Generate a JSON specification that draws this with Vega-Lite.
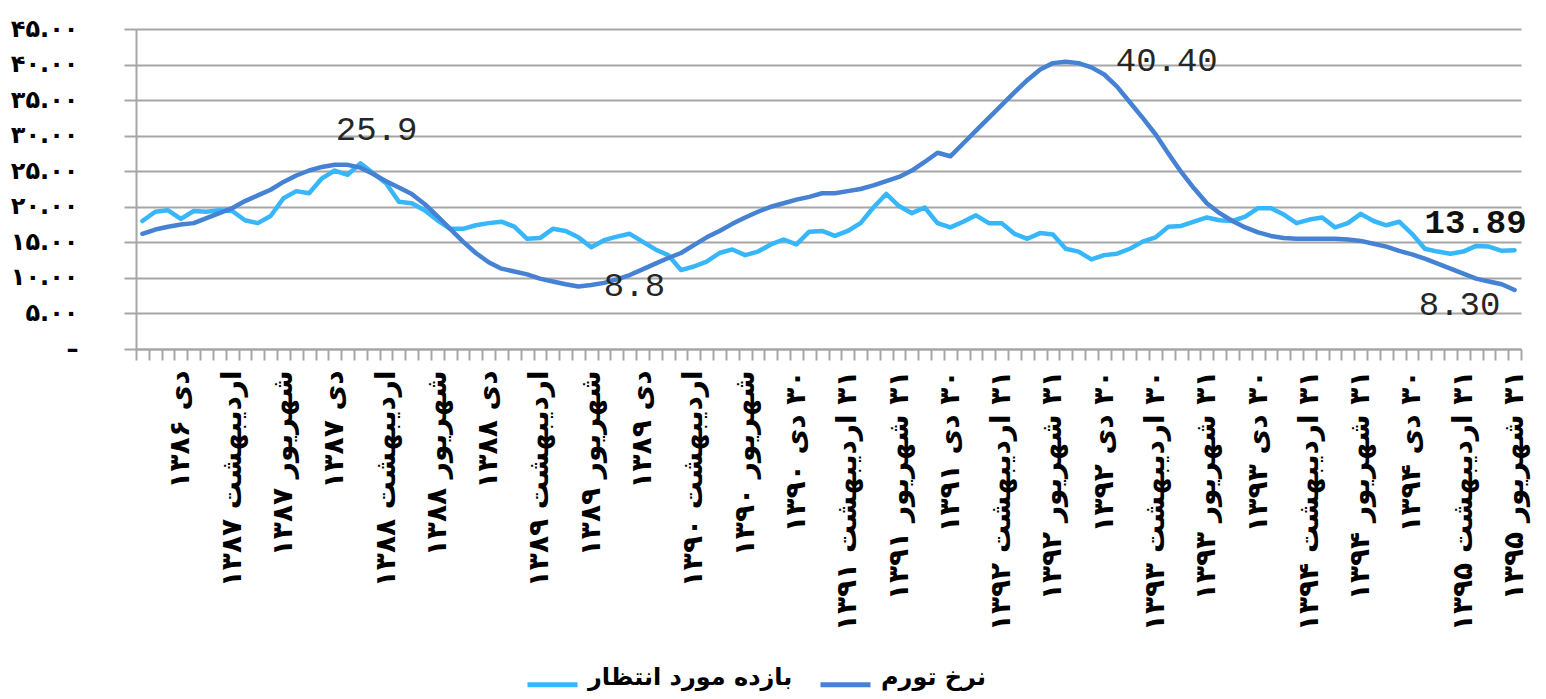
{
  "$schema": "https://vega.github.io/schema/vega-lite/v6.json",
  "width": 1385,
  "height": 320,
  "autosize": {"type": "none"},
  "padding": {"left": 136, "top": 29, "right": 25, "bottom": 350},
  "background": "white",
  "config": {"view": {"stroke": null}, "font": "DejaVu Sans"},
  "data": {"values": [
    {"month": "مهر ۱۳۸۶", "inflation": 16.2, "expected": 18.0},
    {"month": "آبان ۱۳۸۶", "inflation": 16.8, "expected": 19.3},
    {"month": "آذر ۱۳۸۶", "inflation": 17.2, "expected": 19.5},
    {"month": "دی ۱۳۸۶", "inflation": 17.5, "expected": 18.3},
    {"month": "بهمن ۱۳۸۶", "inflation": 17.7, "expected": 19.4},
    {"month": "اسفند ۱۳۸۶", "inflation": 18.4, "expected": 19.3},
    {"month": "فروردین ۱۳۸۷", "inflation": 19.1, "expected": 19.5},
    {"month": "اردیبهشت ۱۳۸۷", "inflation": 19.8, "expected": 19.4},
    {"month": "خرداد ۱۳۸۷", "inflation": 20.8, "expected": 18.1},
    {"month": "تیر ۱۳۸۷", "inflation": 21.6, "expected": 17.7},
    {"month": "مرداد ۱۳۸۷", "inflation": 22.4, "expected": 18.7},
    {"month": "شهریور ۱۳۸۷", "inflation": 23.5, "expected": 21.2},
    {"month": "مهر ۱۳۸۷", "inflation": 24.4, "expected": 22.2},
    {"month": "آبان ۱۳۸۷", "inflation": 25.1, "expected": 21.9},
    {"month": "آذر ۱۳۸۷", "inflation": 25.6, "expected": 24.0},
    {"month": "دی ۱۳۸۷", "inflation": 25.9, "expected": 25.1},
    {"month": "بهمن ۱۳۸۷", "inflation": 25.9, "expected": 24.5},
    {"month": "اسفند ۱۳۸۷", "inflation": 25.5, "expected": 26.1},
    {"month": "فروردین ۱۳۸۸", "inflation": 24.6, "expected": 24.7},
    {"month": "اردیبهشت ۱۳۸۸", "inflation": 23.6, "expected": 23.3},
    {"month": "خرداد ۱۳۸۸", "inflation": 22.7, "expected": 20.7},
    {"month": "تیر ۱۳۸۸", "inflation": 21.8, "expected": 20.5},
    {"month": "مرداد ۱۳۸۸", "inflation": 20.4, "expected": 19.5},
    {"month": "شهریور ۱۳۸۸", "inflation": 18.7, "expected": 18.1},
    {"month": "مهر ۱۳۸۸", "inflation": 16.9, "expected": 16.9},
    {"month": "آبان ۱۳۸۸", "inflation": 15.1, "expected": 16.9},
    {"month": "آذر ۱۳۸۸", "inflation": 13.5, "expected": 17.4},
    {"month": "دی ۱۳۸۸", "inflation": 12.2, "expected": 17.7},
    {"month": "بهمن ۱۳۸۸", "inflation": 11.3, "expected": 17.9},
    {"month": "اسفند ۱۳۸۸", "inflation": 10.9, "expected": 17.2},
    {"month": "فروردین ۱۳۸۹", "inflation": 10.5, "expected": 15.5},
    {"month": "اردیبهشت ۱۳۸۹", "inflation": 9.9, "expected": 15.6},
    {"month": "خرداد ۱۳۸۹", "inflation": 9.5, "expected": 16.9},
    {"month": "تیر ۱۳۸۹", "inflation": 9.1, "expected": 16.6},
    {"month": "مرداد ۱۳۸۹", "inflation": 8.8, "expected": 15.7},
    {"month": "شهریور ۱۳۸۹", "inflation": 9.0, "expected": 14.3},
    {"month": "مهر ۱۳۸۹", "inflation": 9.3, "expected": 15.3},
    {"month": "آبان ۱۳۸۹", "inflation": 9.8, "expected": 15.8},
    {"month": "آذر ۱۳۸۹", "inflation": 10.4, "expected": 16.2},
    {"month": "دی ۱۳۸۹", "inflation": 11.2, "expected": 15.1},
    {"month": "بهمن ۱۳۸۹", "inflation": 12.0, "expected": 14.0},
    {"month": "اسفند ۱۳۸۹", "inflation": 12.8, "expected": 13.2},
    {"month": "فروردین ۱۳۹۰", "inflation": 13.5, "expected": 11.1},
    {"month": "اردیبهشت ۱۳۹۰", "inflation": 14.6, "expected": 11.6},
    {"month": "خرداد ۱۳۹۰", "inflation": 15.7, "expected": 12.3},
    {"month": "تیر ۱۳۹۰", "inflation": 16.6, "expected": 13.5},
    {"month": "مرداد ۱۳۹۰", "inflation": 17.6, "expected": 14.0},
    {"month": "شهریور ۱۳۹۰", "inflation": 18.5, "expected": 13.2},
    {"month": "مهر ۱۳۹۰", "inflation": 19.3, "expected": 13.7},
    {"month": "آبان ۱۳۹۰", "inflation": 20.0, "expected": 14.7},
    {"month": "آذر ۱۳۹۰", "inflation": 20.5, "expected": 15.4},
    {"month": "۳۰ دی ۱۳۹۰", "inflation": 21.0, "expected": 14.7},
    {"month": "بهمن ۱۳۹۰", "inflation": 21.4, "expected": 16.5},
    {"month": "اسفند ۱۳۹۰", "inflation": 21.9, "expected": 16.6},
    {"month": "فروردین ۱۳۹۱", "inflation": 21.9, "expected": 15.9},
    {"month": "۳۱ اردیبهشت ۱۳۹۱", "inflation": 22.2, "expected": 16.6},
    {"month": "خرداد ۱۳۹۱", "inflation": 22.5, "expected": 17.7},
    {"month": "تیر ۱۳۹۱", "inflation": 23.0, "expected": 19.9},
    {"month": "مرداد ۱۳۹۱", "inflation": 23.6, "expected": 21.8},
    {"month": "۳۱ شهریور ۱۳۹۱", "inflation": 24.2, "expected": 20.1},
    {"month": "مهر ۱۳۹۱", "inflation": 25.1, "expected": 19.1},
    {"month": "آبان ۱۳۹۱", "inflation": 26.3, "expected": 19.9},
    {"month": "آذر ۱۳۹۱", "inflation": 27.6, "expected": 17.7},
    {"month": "۳۰ دی ۱۳۹۱", "inflation": 27.1, "expected": 17.1},
    {"month": "بهمن ۱۳۹۱", "inflation": 28.9, "expected": 17.9},
    {"month": "اسفند ۱۳۹۱", "inflation": 30.7, "expected": 18.8},
    {"month": "فروردین ۱۳۹۲", "inflation": 32.5, "expected": 17.7},
    {"month": "۳۱ اردیبهشت ۱۳۹۲", "inflation": 34.3, "expected": 17.7},
    {"month": "خرداد ۱۳۹۲", "inflation": 36.1, "expected": 16.2},
    {"month": "تیر ۱۳۹۲", "inflation": 37.8, "expected": 15.5},
    {"month": "مرداد ۱۳۹۲", "inflation": 39.3, "expected": 16.3},
    {"month": "۳۱ شهریور ۱۳۹۲", "inflation": 40.2, "expected": 16.1},
    {"month": "مهر ۱۳۹۲", "inflation": 40.4, "expected": 14.1},
    {"month": "آبان ۱۳۹۲", "inflation": 40.2, "expected": 13.7},
    {"month": "آذر ۱۳۹۲", "inflation": 39.6, "expected": 12.6},
    {"month": "۳۰ دی ۱۳۹۲", "inflation": 38.6, "expected": 13.2},
    {"month": "بهمن ۱۳۹۲", "inflation": 36.9, "expected": 13.4},
    {"month": "اسفند ۱۳۹۲", "inflation": 34.7, "expected": 14.1},
    {"month": "فروردین ۱۳۹۳", "inflation": 32.5, "expected": 15.1},
    {"month": "۳۰ اردیبهشت ۱۳۹۳", "inflation": 30.2, "expected": 15.7},
    {"month": "خرداد ۱۳۹۳", "inflation": 27.5, "expected": 17.2},
    {"month": "تیر ۱۳۹۳", "inflation": 24.9, "expected": 17.3},
    {"month": "مرداد ۱۳۹۳", "inflation": 22.6, "expected": 17.9},
    {"month": "۳۱ شهریور ۱۳۹۳", "inflation": 20.5, "expected": 18.5},
    {"month": "مهر ۱۳۹۳", "inflation": 19.1, "expected": 18.1},
    {"month": "آبان ۱۳۹۳", "inflation": 18.0, "expected": 18.0},
    {"month": "آذر ۱۳۹۳", "inflation": 17.1, "expected": 18.6},
    {"month": "۳۰ دی ۱۳۹۳", "inflation": 16.4, "expected": 19.8},
    {"month": "بهمن ۱۳۹۳", "inflation": 15.9, "expected": 19.8},
    {"month": "اسفند ۱۳۹۳", "inflation": 15.6, "expected": 18.9},
    {"month": "فروردین ۱۳۹۴", "inflation": 15.5, "expected": 17.7},
    {"month": "۳۱ اردیبهشت ۱۳۹۴", "inflation": 15.5, "expected": 18.2},
    {"month": "خرداد ۱۳۹۴", "inflation": 15.5, "expected": 18.5},
    {"month": "تیر ۱۳۹۴", "inflation": 15.5, "expected": 17.1},
    {"month": "مرداد ۱۳۹۴", "inflation": 15.4, "expected": 17.7},
    {"month": "۳۱ شهریور ۱۳۹۴", "inflation": 15.2, "expected": 19.0},
    {"month": "مهر ۱۳۹۴", "inflation": 14.8, "expected": 18.0},
    {"month": "آبان ۱۳۹۴", "inflation": 14.4, "expected": 17.4},
    {"month": "آذر ۱۳۹۴", "inflation": 13.8, "expected": 17.9},
    {"month": "۳۰ دی ۱۳۹۴", "inflation": 13.3, "expected": 16.2},
    {"month": "بهمن ۱۳۹۴", "inflation": 12.7, "expected": 14.1},
    {"month": "اسفند ۱۳۹۴", "inflation": 12.0, "expected": 13.7},
    {"month": "فروردین ۱۳۹۵", "inflation": 11.3, "expected": 13.4},
    {"month": "۳۱ اردیبهشت ۱۳۹۵", "inflation": 10.6, "expected": 13.7},
    {"month": "خرداد ۱۳۹۵", "inflation": 9.9, "expected": 14.5},
    {"month": "تیر ۱۳۹۵", "inflation": 9.5, "expected": 14.4},
    {"month": "مرداد ۱۳۹۵", "inflation": 9.1, "expected": 13.8},
    {"month": "۳۱ شهریور ۱۳۹۵", "inflation": 8.3, "expected": 13.89}
  ]},
  "transform": [{"fold": ["expected", "inflation"], "as": ["series", "value"]}],
  "encoding": {
    "x": {
      "field": "month", "type": "ordinal", "sort": null, "bandPosition": 0.5,
      "scale": {"type": "band", "paddingInner": 0, "paddingOuter": 0},
      "axis": {
        "title": null, "tickBand": "extent", "labelAngle": -90,
        "labelExpr": "test(regexp('^(۳۰ |۳۱ )?(دی|اردیبهشت|شهریور) '), datum.value) ? '‏' + datum.value : ''",
        "labelFont": "DejaVu Sans", "labelFontWeight": "bold", "labelFontSize": 28, "labelColor": "black",
        "labelPadding": 10, "labelOverlap": false, "labelLimit": 500, "labelBound": false,
        "tickColor": "#a6a6a6", "tickWidth": 2, "tickSize": 11,
        "domainColor": "#a6a6a6", "domainWidth": 2, "grid": false
      }
    },
    "y": {
      "field": "value", "type": "quantitative",
      "scale": {"domain": [0, 45], "nice": false},
      "axis": {
        "title": null, "values": [0, 5, 10, 15, 20, 25, 30, 35, 40, 45],
        "labelExpr": "['–\u00a0 ', '۵.۰۰', '۱۰.۰۰', '۱۵.۰۰', '۲۰.۰۰', '۲۵.۰۰', '۳۰.۰۰', '۳۵.۰۰', '۴۰.۰۰', '۴۵.۰۰'][round(datum.value / 5)]",
        "labelFont": "DejaVu Sans", "labelFontWeight": "bold", "labelFontSize": 24, "labelColor": "black",
        "labelPadding": 46, "labelOverlap": false,
        "grid": true, "gridColor": "#a6a6a6", "gridWidth": 2,
        "tickColor": "#a6a6a6", "tickWidth": 2, "tickSize": 12,
        "domainColor": "#a6a6a6", "domainWidth": 2
      }
    }
  },
  "layer": [
    {
      "mark": {"type": "line", "strokeWidth": 4.5, "strokeCap": "round", "strokeJoin": "round"},
      "encoding": {
        "color": {
          "field": "series", "type": "nominal",
          "scale": {"domain": ["expected", "inflation"], "range": ["#38b6fa", "#4682d4"]},
          "legend": {
            "title": null, "orient": "none", "direction": "horizontal",
            "legendX": 389, "legendY": 628,
            "labelExpr": "datum.value == 'expected' ? 'بازده مورد انتظار' : 'نرخ تورم'",
            "labelFont": "DejaVu Sans", "labelFontWeight": "bold", "labelFontSize": 24, "labelColor": "black",
            "labelLimit": 400, "labelBaseline": "alphabetic", "labelOffset": 8,
            "symbolType": "stroke", "symbolSize": 2500, "symbolStrokeWidth": 5, "columnPadding": 17
          }
        }
      }
    },
    {
      "transform": [{"filter": "datum.series == 'inflation' && datum.month == 'بهمن ۱۳۸۷'"}],
      "mark": {"type": "text", "font": "Liberation Mono", "fontSize": 34, "color": "#262626", "align": "center", "baseline": "middle", "dx": 29, "dy": -35},
      "encoding": {"text": {"field": "value", "type": "quantitative", "format": ".1f"}}
    },
    {
      "transform": [{"filter": "datum.series == 'inflation' && datum.month == 'مرداد ۱۳۸۹'"}],
      "mark": {"type": "text", "font": "Liberation Mono", "fontSize": 34, "color": "#262626", "align": "center", "baseline": "middle", "dx": 56, "dy": 0},
      "encoding": {"text": {"field": "value", "type": "quantitative", "format": ".1f"}}
    },
    {
      "transform": [{"filter": "datum.series == 'inflation' && datum.month == 'مهر ۱۳۹۲'"}],
      "mark": {"type": "text", "font": "Liberation Mono", "fontSize": 34, "color": "#262626", "align": "center", "baseline": "middle", "dx": 101, "dy": -1},
      "encoding": {"text": {"field": "value", "type": "quantitative", "format": ".2f"}}
    },
    {
      "transform": [{"filter": "datum.series == 'expected' && datum.month == '۳۱ شهریور ۱۳۹۵'"}],
      "mark": {"type": "text", "font": "Liberation Mono", "fontSize": 34, "fontWeight": "bold", "color": "#111111", "align": "center", "baseline": "middle", "dx": -39, "dy": -27},
      "encoding": {"text": {"field": "value", "type": "quantitative", "format": ".2f"}}
    },
    {
      "transform": [{"filter": "datum.series == 'inflation' && datum.month == '۳۱ شهریور ۱۳۹۵'"}],
      "mark": {"type": "text", "font": "Liberation Mono", "fontSize": 34, "color": "#262626", "align": "center", "baseline": "middle", "dx": -55, "dy": 15},
      "encoding": {"text": {"field": "value", "type": "quantitative", "format": ".2f"}}
    }
  ]
}
